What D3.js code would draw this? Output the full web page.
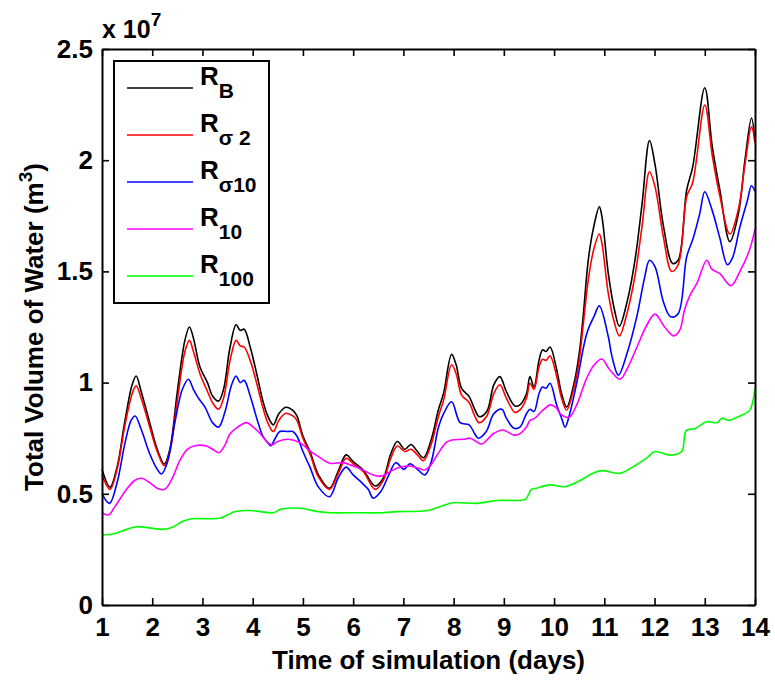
<!DOCTYPE html>
<html>
<head>
<meta charset="utf-8">
<script src="https://cdn.jsdelivr.net/npm/d3@7"></script>
<style>
  body { margin: 0; background: #fff; }
  svg { display: block; }
  text { font-family: "Liberation Sans", Arial, Helvetica, sans-serif; font-weight: bold; fill: #000; }
</style>
</head>
<body>
<svg id="chart" width="775" height="681"></svg>
<script>
// Axis ticks
const dayTicks = [1, 2, 3, 4, 5, 6, 7, 8, 9, 10, 11, 12, 13, 14];
const volumeTicks = [0, 0.5, 1, 1.5, 2, 2.5];
const volumeTickLabels = ["0", "0.5", "1", "1.5", "2", "2.5"];

// Series: legend subscripts and colours
const seriesSubscripts = ["B", "σ 2", "σ10", "10", "100"];
const seriesColors = ["#000000", "#ff0000", "#0000ff", "#ff00ff", "#00ff00"];

// Total volume of water, [day, volume in units of 1e7 m^3]
const rB = [[1.00,0.61],[1.16,0.53],[1.30,0.62],[1.45,0.82],[1.60,0.99],[1.68,1.03],[1.78,0.96],[1.95,0.82],[2.10,0.70],[2.24,0.634],[2.35,0.70],[2.50,0.96],[2.65,1.19],[2.74,1.25],[2.82,1.20],[2.95,1.07],[3.10,1.00],[3.20,0.94],[3.32,0.917],[3.42,0.97],[3.55,1.16],[3.67,1.26],[3.75,1.235],[3.83,1.24],[3.95,1.16],[4.08,1.04],[4.20,0.92],[4.30,0.85],[4.41,0.81],[4.52,0.86],[4.66,0.889],[4.80,0.875],[4.88,0.85],[5.00,0.76],[5.14,0.69],[5.31,0.585],[5.53,0.525],[5.70,0.60],[5.86,0.675],[6.00,0.645],[6.20,0.607],[6.44,0.535],[6.60,0.57],[6.75,0.68],[6.88,0.735],[7.03,0.70],[7.15,0.722],[7.28,0.69],[7.40,0.662],[7.55,0.74],[7.70,0.88],[7.80,0.952],[7.96,1.127],[8.05,1.08],[8.16,0.974],[8.31,0.937],[8.42,0.88],[8.51,0.847],[8.66,0.87],[8.80,0.99],[8.92,1.027],[9.05,0.96],[9.22,0.895],[9.32,0.90],[9.45,0.95],[9.52,1.027],[9.60,0.98],[9.70,1.10],[9.77,1.147],[9.84,1.14],[9.92,1.16],[10.05,1.06],[10.15,0.95],[10.25,0.89],[10.40,1.00],[10.50,1.13],[10.58,1.30],[10.68,1.55],[10.78,1.69],[10.90,1.79],[10.95,1.75],[11.08,1.49],[11.20,1.33],[11.30,1.254],[11.45,1.36],[11.61,1.55],[11.75,1.80],[11.90,2.088],[12.01,1.98],[12.18,1.70],[12.36,1.536],[12.47,1.55],[12.64,1.866],[12.76,1.97],[13.00,2.326],[13.15,2.06],[13.30,1.866],[13.50,1.634],[13.67,1.76],[13.80,2.00],[13.93,2.19],[14.00,2.08]];
const rSigma2 = [[1.00,0.585],[1.16,0.52],[1.30,0.61],[1.45,0.80],[1.60,0.95],[1.68,0.986],[1.78,0.93],[1.95,0.80],[2.10,0.69],[2.24,0.626],[2.35,0.69],[2.50,0.92],[2.65,1.14],[2.74,1.19],[2.82,1.14],[2.95,1.04],[3.10,0.96],[3.20,0.91],[3.32,0.88],[3.42,0.93],[3.55,1.10],[3.67,1.19],[3.75,1.165],[3.83,1.16],[3.95,1.10],[4.08,0.997],[4.20,0.89],[4.30,0.82],[4.41,0.78],[4.52,0.83],[4.66,0.862],[4.80,0.85],[4.88,0.83],[5.00,0.75],[5.14,0.68],[5.31,0.575],[5.53,0.52],[5.70,0.59],[5.86,0.66],[6.00,0.635],[6.20,0.60],[6.44,0.52],[6.60,0.56],[6.75,0.66],[6.88,0.715],[7.03,0.69],[7.15,0.70],[7.28,0.675],[7.40,0.649],[7.55,0.72],[7.70,0.85],[7.80,0.92],[7.96,1.08],[8.05,1.04],[8.16,0.944],[8.31,0.91],[8.42,0.85],[8.51,0.82],[8.66,0.85],[8.80,0.95],[8.92,0.99],[9.05,0.93],[9.22,0.866],[9.32,0.877],[9.45,0.93],[9.52,0.997],[9.60,0.97],[9.70,1.07],[9.77,1.105],[9.84,1.10],[9.92,1.12],[10.05,1.03],[10.15,0.93],[10.25,0.877],[10.40,0.98],[10.50,1.10],[10.58,1.26],[10.68,1.46],[10.78,1.59],[10.90,1.668],[10.95,1.63],[11.08,1.40],[11.20,1.27],[11.30,1.21],[11.45,1.31],[11.61,1.48],[11.75,1.70],[11.90,1.948],[12.01,1.88],[12.18,1.65],[12.34,1.50],[12.47,1.53],[12.64,1.836],[12.76,1.90],[13.00,2.248],[13.15,2.02],[13.30,1.84],[13.50,1.668],[13.67,1.78],[13.80,1.98],[13.93,2.15],[14.00,2.08]];
const rSigma10 = [[1.00,0.50],[1.15,0.457],[1.30,0.55],[1.45,0.72],[1.58,0.83],[1.66,0.85],[1.78,0.79],[1.95,0.68],[2.10,0.61],[2.18,0.589],[2.30,0.64],[2.45,0.82],[2.60,0.97],[2.72,1.015],[2.82,0.97],[2.92,0.93],[3.05,0.89],[3.20,0.82],[3.32,0.80],[3.45,0.87],[3.58,0.99],[3.67,1.03],[3.75,1.00],[3.83,1.01],[3.95,0.94],[4.08,0.84],[4.20,0.76],[4.30,0.73],[4.36,0.716],[4.45,0.75],[4.54,0.78],[4.70,0.78],[4.80,0.78],[4.88,0.76],[5.00,0.69],[5.14,0.62],[5.31,0.53],[5.53,0.487],[5.70,0.57],[5.86,0.62],[6.00,0.585],[6.17,0.55],[6.30,0.52],[6.40,0.48],[6.55,0.51],[6.70,0.58],[6.85,0.64],[7.01,0.61],[7.13,0.635],[7.28,0.61],[7.43,0.585],[7.55,0.64],[7.70,0.80],[7.80,0.86],[7.96,0.914],[8.13,0.82],[8.31,0.81],[8.42,0.77],[8.49,0.75],[8.65,0.78],[8.80,0.86],[8.96,0.88],[9.05,0.84],[9.20,0.795],[9.32,0.80],[9.45,0.86],[9.52,0.88],[9.60,0.87],[9.70,0.95],[9.77,0.98],[9.84,0.975],[9.92,0.997],[10.05,0.90],[10.15,0.84],[10.22,0.80],[10.30,0.85],[10.45,0.997],[10.65,1.22],[10.80,1.30],[10.90,1.345],[11.08,1.206],[11.15,1.12],[11.28,1.034],[11.45,1.13],[11.65,1.30],[11.80,1.47],[11.90,1.55],[12.01,1.52],[12.18,1.36],[12.32,1.296],[12.47,1.31],[12.64,1.566],[12.77,1.65],[12.90,1.76],[13.00,1.858],[13.14,1.78],[13.30,1.65],[13.45,1.53],[13.55,1.56],[13.70,1.70],[13.85,1.82],[13.93,1.885],[14.00,1.86]];
const r10 = [[1.00,0.415],[1.13,0.405],[1.25,0.44],[1.49,0.52],[1.65,0.56],[1.79,0.57],[1.95,0.55],[2.10,0.525],[2.25,0.52],[2.40,0.57],[2.55,0.65],[2.70,0.70],[2.85,0.716],[3.08,0.715],[3.20,0.70],[3.33,0.685],[3.45,0.72],[3.55,0.77],[3.70,0.80],[3.88,0.82],[4.01,0.80],[4.15,0.77],[4.30,0.73],[4.38,0.72],[4.50,0.735],[4.71,0.745],[4.94,0.73],[5.10,0.70],[5.31,0.667],[5.54,0.637],[5.80,0.64],[6.00,0.625],[6.17,0.61],[6.40,0.585],[6.57,0.58],[6.70,0.595],[6.87,0.615],[7.13,0.625],[7.30,0.615],[7.43,0.607],[7.55,0.63],[7.66,0.67],[7.85,0.73],[7.96,0.742],[8.20,0.745],[8.33,0.75],[8.45,0.735],[8.56,0.724],[8.70,0.75],[8.79,0.77],[8.98,0.787],[9.10,0.775],[9.20,0.764],[9.32,0.77],[9.45,0.80],[9.52,0.83],[9.62,0.84],[9.75,0.87],[9.93,0.90],[10.05,0.885],[10.12,0.86],[10.30,0.844],[10.45,0.90],[10.65,1.02],[10.80,1.08],[10.95,1.106],[11.10,1.06],[11.31,1.015],[11.45,1.06],[11.65,1.16],[11.85,1.26],[12.01,1.308],[12.20,1.25],[12.38,1.21],[12.50,1.235],[12.60,1.33],[12.70,1.39],[12.85,1.45],[13.04,1.55],[13.14,1.51],[13.30,1.49],[13.52,1.436],[13.70,1.50],[13.89,1.596],[14.00,1.69]];
const r100 = [[1.00,0.315],[1.23,0.32],[1.49,0.34],[1.69,0.352],[1.90,0.348],[2.22,0.34],[2.40,0.35],[2.60,0.375],[2.79,0.388],[3.10,0.388],[3.34,0.39],[3.50,0.405],[3.65,0.42],[3.95,0.425],[4.15,0.42],[4.41,0.415],[4.55,0.43],[4.68,0.435],[4.94,0.435],[5.31,0.42],[5.54,0.415],[6.00,0.415],[6.60,0.415],[6.87,0.42],[7.46,0.424],[7.70,0.44],[7.99,0.46],[8.46,0.457],[8.86,0.47],[9.39,0.472],[9.45,0.48],[9.55,0.52],[9.65,0.525],[9.91,0.54],[10.21,0.532],[10.48,0.555],[10.75,0.59],[10.95,0.604],[11.31,0.592],[11.60,0.625],[11.84,0.66],[12.01,0.69],[12.31,0.674],[12.54,0.69],[12.63,0.784],[12.81,0.794],[13.04,0.824],[13.25,0.82],[13.34,0.84],[13.47,0.83],[13.70,0.85],[13.89,0.874],[14.00,0.974]];

const seriesData = [rB, rSigma2, rSigma10, r10, r100];

const svg = d3.select("#chart");
const margin = { left: 102, right: 20, top: 49, bottom: 76 };
const W = 775, H = 681;
const x = d3.scaleLinear().domain([1, 14]).range([margin.left, W - margin.right]);
const y = d3.scaleLinear().domain([0, 2.5]).range([H - margin.bottom, margin.top]);

const tickFont = 26;

// Data lines (drawn in legend order so later series sit on top)
const line = d3.line().x(d => x(d[0])).y(d => y(d[1])).curve(d3.curveCatmullRom.alpha(0.5));
svg.append("g").selectAll("path")
  .data(seriesData)
  .join("path")
  .attr("d", line)
  .attr("fill", "none")
  .attr("stroke", (d, i) => seriesColors[i])
  .attr("stroke-width", 1.6)
  .attr("stroke-linejoin", "round");

// Axes box with inward ticks on all four sides
function styleAxis(g) {
  g.select(".domain").attr("stroke", "#000").attr("stroke-width", 2);
  g.selectAll(".tick line").attr("stroke", "#000").attr("stroke-width", 1.6);
  g.selectAll(".tick text").attr("font-size", tickFont).attr("font-family", null);
}
svg.append("g").attr("transform", `translate(0,${y(0)})`)
  .call(d3.axisBottom(x).tickValues(dayTicks).tickFormat(d3.format("d")).tickSize(-7).tickSizeOuter(0).tickPadding(13))
  .call(styleAxis);
svg.append("g").attr("transform", `translate(0,${y(2.5)})`)
  .call(d3.axisTop(x).tickValues(dayTicks).tickFormat("").tickSize(-7).tickSizeOuter(0))
  .call(styleAxis);
svg.append("g").attr("transform", `translate(${x(1)},0)`)
  .call(d3.axisLeft(y).tickValues(volumeTicks).tickFormat((d, i) => volumeTickLabels[i]).tickSize(-7).tickSizeOuter(0).tickPadding(9))
  .call(styleAxis);
svg.append("g").attr("transform", `translate(${x(14)},0)`)
  .call(d3.axisRight(y).tickValues(volumeTicks).tickFormat("").tickSize(-7).tickSizeOuter(0))
  .call(styleAxis);

// Exponent marker above the y axis
const expo = svg.append("text").attr("x", x(1)).attr("y", 38).attr("font-size", 25);
expo.append("tspan").text("x 10");
expo.append("tspan").attr("dy", -12).attr("font-size", 19).text("7");

// Axis titles
svg.append("text")
  .attr("x", (x(1) + x(14)) / 2).attr("y", 669)
  .attr("text-anchor", "middle").attr("font-size", 26)
  .text("Time of simulation (days)");
const ylab = svg.append("text")
  .attr("transform", `translate(43,${(y(0) + y(2.5)) / 2}) rotate(-90)`)
  .attr("text-anchor", "middle").attr("font-size", 26);
ylab.append("tspan").text("Total Volume of Water (m");
ylab.append("tspan").attr("dy", -11).attr("font-size", 19).text("3");
ylab.append("tspan").attr("dy", 11).text(")");

// Legend
const legend = svg.append("g");
legend.append("rect")
  .attr("x", 114).attr("y", 61).attr("width", 155).attr("height", 242)
  .attr("fill", "#fff").attr("stroke", "#000").attr("stroke-width", 2);
seriesSubscripts.forEach((sub, i) => {
  const ly = 88 + i * 47;
  legend.append("line")
    .attr("x1", 127).attr("x2", 193).attr("y1", ly).attr("y2", ly)
    .attr("stroke", seriesColors[i]).attr("stroke-width", 1.6);
  const t = legend.append("text").attr("x", 200).attr("y", ly - 3).attr("font-size", 26);
  t.append("tspan").text("R");
  t.append("tspan").attr("dy", 13).attr("font-size", 21).text(sub);
});
</script>
</body>
</html>
